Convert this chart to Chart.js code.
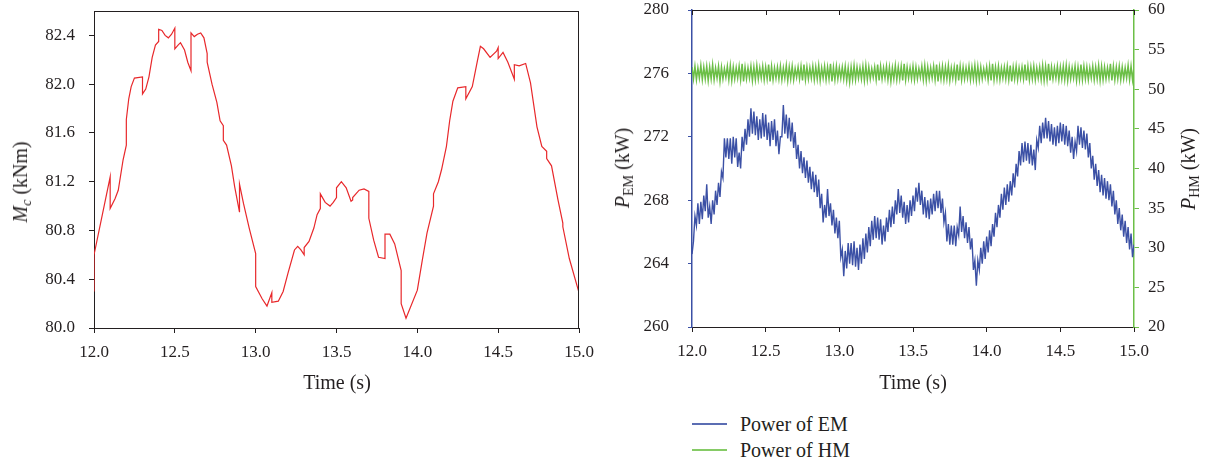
<!DOCTYPE html>
<html>
<head>
<meta charset="utf-8">
<script src="https://cdn.jsdelivr.net/npm/chart.js@4.4.0/dist/chart.umd.min.js"></script>
<style>
body { margin: 0; background: #fff; width: 1207px; height: 461px; overflow: hidden; position: relative; font-family: "Liberation Serif", "Times New Roman", serif; color: #231f20; }
canvas { position: absolute; top: 0; }
#mcChart { left: 0; }
#powChart { left: 600px; }
.ytitle { position: absolute; font-size: 20px; line-height: 20px; white-space: nowrap; transform: translate(-50%, -50%) rotate(-90deg); }
.xtitle { position: absolute; font-size: 20px; line-height: 20px; white-space: nowrap; transform: translate(-50%, -50%); }
.ytitle sub { font-size: 14px; vertical-align: -4px; line-height: 0; }
.leg { position: absolute; left: 692px; font-size: 20px; line-height: 20px; white-space: nowrap; }
.leg span { display: inline-block; width: 35px; height: 0; border-top: 2px solid; vertical-align: middle; margin-right: 13px; position: relative; top: -2px; }
</style>
</head>
<body>
<canvas id="mcChart" width="600" height="400"></canvas>
<canvas id="powChart" width="607" height="400"></canvas>

<div class="ytitle" style="left:20px; top:182px;"><i>M</i><sub><i>c</i></sub> (kNm)</div>
<div class="xtitle" style="left:337px; top:382px;">Time (s)</div>
<div class="ytitle" style="left:622px; top:168px;"><i>P</i><sub>EM</sub> (kW)</div>
<div class="ytitle" style="left:1188px; top:169px;"><i>P</i><sub>HM</sub> (kW)</div>
<div class="xtitle" style="left:913px; top:382px;">Time (s)</div>

<div class="leg" style="top:414px;"><span style="border-color:#5b6db3;"></span>Power of EM</div>
<div class="leg" style="top:440px;"><span style="border-color:#86cb66;"></span>Power of HM</div>

<script>
// tick values
var timeTicks = [12.0, 12.5, 13.0, 13.5, 14.0, 14.5, 15.0];
var mcTicks = [80.0, 80.4, 80.8, 81.2, 81.6, 82.0, 82.4];
var emTicks = [260, 264, 268, 272, 276, 280];
var hmTicks = [20, 25, 30, 35, 40, 45, 50, 55, 60];

// left chart: M_c (kNm) against time (s), repeated times are the jumps
var mcTime = [12.00,12.00,12.10,12.10,12.13,12.15,12.18,12.20,12.20,12.215,
  12.23,12.25,12.30,12.30,12.32,12.34,12.36,12.38,12.40,12.40,
  12.42,12.44,12.46,12.48,12.50,12.50,12.52,12.535,12.56,12.58,
  12.60,12.60,12.62,12.64,12.66,12.68,12.70,12.70,12.73,12.76,
  12.78,12.80,12.80,12.82,12.85,12.87,12.90,12.90,12.925,12.96,
  13.00,13.00,13.04,13.07,13.10,13.10,13.14,13.17,13.20,13.24,
  13.26,13.28,13.30,13.30,13.33,13.36,13.38,13.40,13.40,13.43,
  13.46,13.48,13.50,13.50,13.53,13.56,13.59,13.60,13.60,13.64,
  13.67,13.70,13.70,13.73,13.76,13.80,13.80,13.83,13.86,13.90,
  13.90,13.93,14.00,14.03,14.06,14.10,14.10,14.13,14.15,14.18,
  14.20,14.22,14.25,14.30,14.30,14.34,14.37,14.39,14.41,14.45,
  14.49,14.50,14.50,14.53,14.56,14.60,14.60,14.63,14.67,14.70,
  14.74,14.77,14.80,14.80,14.83,14.87,14.90,14.90,14.94,15.00,
  15.00];
var mcValue = [80.30,80.60,81.24,80.98,81.06,81.13,81.38,81.50,81.71,81.88,
  81.98,82.05,82.06,81.92,81.96,82.06,82.22,82.32,82.35,82.45,
  82.44,82.40,82.38,82.41,82.46,82.29,82.32,82.34,82.28,82.18,
  82.11,82.42,82.39,82.41,82.42,82.38,82.25,82.18,82.00,81.85,
  81.70,81.66,81.54,81.50,81.33,81.16,80.95,81.18,81.02,80.82,
  80.61,80.34,80.24,80.18,80.29,80.21,80.22,80.30,80.45,80.64,
  80.67,80.64,80.60,80.66,80.71,80.82,80.93,80.98,81.10,81.03,
  81.00,81.03,81.07,81.15,81.20,81.15,81.04,81.05,81.07,81.13,
  81.14,81.12,80.90,80.72,80.58,80.57,80.77,80.77,80.69,80.47,
  80.20,80.08,80.31,80.55,80.78,81.00,81.10,81.20,81.30,81.49,
  81.70,81.86,81.97,81.98,81.88,81.98,82.18,82.31,82.29,82.22,
  82.27,82.30,82.21,82.26,82.18,82.04,82.16,82.15,82.17,82.01,
  81.65,81.49,81.45,81.39,81.33,81.05,80.86,80.83,80.57,80.29,
  80.45];

// right chart: sampled every 0.01 s from 12.00 s
var powStart = 12.0;
var powStep = 0.01;
var emPower = [264.6,265.4,267.0,266.4,267.8,266.5,267.9,266.8,268.3,267.3,
  269.0,266.9,267.6,266.5,268.0,267.1,268.6,267.7,269.1,268.2,
  269.8,269.4,271.9,270.7,271.9,270.6,271.9,270.3,272.0,270.7,
  271.9,270.1,271.0,270.0,272.0,271.1,272.5,271.5,273.1,272.0,
  273.8,272.2,273.6,272.1,273.3,271.8,273.1,271.9,273.5,272.0,
  273.4,271.8,272.9,271.4,273.0,271.8,273.1,271.4,272.4,270.9,
  272.0,272.0,274.0,272.2,273.4,271.9,273.2,271.7,272.9,271.3,
  272.3,270.6,271.5,270.0,271.1,269.7,270.7,269.4,270.5,269.1,
  270.1,268.7,269.8,268.5,269.6,268.2,269.3,267.5,268.4,266.6,
  267.7,266.9,268.7,267.0,267.8,266.4,267.4,265.9,266.9,265.6,
  266.7,264.4,264.9,263.2,264.8,263.7,265.3,264.0,265.3,263.9,
  265.4,263.8,265.0,263.6,265.2,264.0,265.6,264.3,265.9,264.7,
  266.3,265.1,266.7,265.5,267.0,265.6,266.9,265.5,266.8,265.2,
  266.4,265.4,266.9,266.0,267.4,266.3,267.6,266.5,268.0,267.1,
  268.7,267.2,268.3,266.9,267.9,266.5,267.7,266.6,268.0,267.0,
  268.3,267.3,268.8,267.9,269.1,267.7,268.6,267.1,268.2,266.9,
  268.0,266.8,268.1,267.1,268.4,267.3,268.6,267.5,268.6,267.2,
  268.1,266.6,267.2,265.4,266.5,265.2,266.4,265.2,266.4,265.1,
  266.3,265.8,267.6,266.0,267.0,265.6,266.6,265.3,266.3,264.9,
  265.6,263.6,264.2,262.6,264.2,263.6,265.0,264.0,265.4,264.3,
  265.7,264.7,266.1,265.1,266.5,265.7,267.2,266.3,267.7,266.9,
  268.4,267.4,268.8,267.7,269.0,267.9,269.2,268.3,269.7,268.8,
  270.3,269.5,271.1,270.2,271.6,270.4,271.7,270.5,271.6,270.3,
  271.5,270.2,271.2,269.9,271.8,271.3,272.7,271.6,272.9,271.9,
  273.2,271.9,273.0,271.7,272.8,271.5,272.6,271.4,272.7,271.6,
  272.9,271.7,272.8,271.5,272.7,271.4,272.4,271.0,272.0,270.6,
  271.7,271.1,272.7,271.5,272.6,271.3,272.4,271.2,272.2,270.7,
  271.6,270.0,270.8,269.3,270.3,268.9,269.9,268.5,269.6,268.3,
  269.4,268.1,269.2,268.0,269.0,267.6,268.6,267.1,268.0,266.5,
  267.5,266.1,267.1,265.7,266.7,265.3,266.3,264.9,265.9,264.4,
  265.2];
var hmPower = [52.8,51.3,52.9,51.2,52.7,51.4,53.0,51.2,52.8,51.3,
  52.9,51.1,52.8,51.3,53.1,51.2,52.7,51.4,52.9,51.0,
  52.8,51.3,52.6,51.5,52.9,51.2,53.0,51.1,52.8,51.3,
  52.7,51.4,52.9,51.2,53.2,51.0,52.8,51.3,52.7,51.4,
  52.9,51.1,52.8,51.2,53.0,51.3,52.7,51.4,52.9,51.2,
  52.8,51.3,53.1,51.0,52.9,51.2,52.7,51.4,52.8,51.3,
  52.9,51.2,52.7,51.4,53.0,51.1,52.8,51.3,52.9,51.2,
  52.6,51.5,52.8,51.3,52.9,51.1,53.1,51.2,52.8,51.3,
  52.7,51.4,52.9,51.2,52.8,51.3,53.0,51.1,52.7,51.4,
  52.9,51.2,52.8,51.3,53.2,51.0,52.8,51.2,52.9,51.3,
  52.7,51.4,52.8,51.3,52.9,51.1,52.7,50.9,52.8,51.2,
  53.0,51.2,52.8,51.4,52.7,51.3,52.9,51.1,53.0,51.2,
  52.8,51.3,52.6,51.5,52.8,51.2,53.1,51.1,52.9,51.3,
  52.7,51.4,52.9,51.2,52.8,51.0,52.7,51.3,53.0,51.2,
  52.8,51.3,52.9,51.1,53.2,51.2,52.8,51.4,52.7,51.3,
  52.9,51.2,52.8,51.3,52.6,51.5,52.9,51.2,53.0,51.1,
  52.8,51.3,52.7,51.4,52.9,51.2,53.1,51.0,52.8,51.3,
  52.9,51.2,52.8,51.3,53.0,51.1,52.7,51.4,52.8,51.2,
  53.1,51.1,52.9,51.2,52.8,51.3,52.7,51.4,52.9,51.2,
  52.8,51.3,53.0,51.1,52.9,51.2,52.8,51.3,52.6,51.5,
  52.8,51.2,52.9,51.1,53.2,51.2,52.8,51.3,52.9,51.2,
  52.7,51.4,52.8,51.3,52.9,51.2,53.0,51.0,52.8,51.3,
  52.9,51.2,52.7,51.4,52.8,51.3,53.1,51.1,52.9,51.2,
  52.8,51.3,52.9,51.2,52.7,51.4,52.8,51.2,53.0,51.1,
  52.9,51.2,53.2,51.1,52.8,51.3,52.7,51.4,52.9,51.2,
  52.8,51.3,52.9,51.2,53.0,51.1,52.8,51.3,52.7,51.4,
  52.9,51.1,52.8,51.2,53.1,51.2,52.9,51.3,52.8,51.2,
  52.7,51.4,52.9,51.2,52.8,51.3,53.0,51.1,52.9,51.2,
  52.8,51.3,52.7,51.4,53.2,51.1,52.9,51.2,52.8,51.3,
  52.9,51.2,52.8,51.3,52.7,51.4,53.0,51.2,52.9,51.2,
  52.8];

var ink = "#231f20";
var red = "#e8282b";
var blue = "#3b50a5";
var green = "#6cbf47";

// tick font, handed out fresh for every label
function tickFont() {
  return { family: "'Liberation Serif', serif", size: 17 };
}

function toPoints(xs, ys) {
  var pts = [];
  for (var i = 0; i < ys.length; i++) pts.push({ x: xs[i], y: ys[i] });
  return pts;
}
function sampled(ys) {
  var pts = [];
  for (var i = 0; i < ys.length; i++) pts.push({ x: powStart + i * powStep, y: ys[i] });
  return pts;
}
function fixedTicks(list) {
  return function(scale) { scale.ticks = list.map(function(v) { return { value: v }; }); };
}
// fixed axis size, and no extra room for the end labels
function fixedWidth(w) {
  return function(s) { s.width = w; s.paddingTop = 0; s.paddingBottom = 0; };
}
function fixedHeight(h) {
  return function(s) { s.height = h; s.paddingLeft = 0; s.paddingRight = 0; };
}

// frame lines that no axis draws (top side, right side, inward top ticks)
var framePlugin = {
  id: "frame",
  afterDraw: function(chart, args, opts) {
    var ctx = chart.ctx, a = chart.chartArea;
    ctx.save();
    ctx.lineWidth = 1;
    ctx.strokeStyle = ink;
    ctx.beginPath();
    ctx.moveTo(a.left, Math.round(a.top) + 0.5);
    ctx.lineTo(a.right, Math.round(a.top) + 0.5);
    if (opts.rightSide) {
      ctx.moveTo(Math.round(a.right) - 0.5, a.top);
      ctx.lineTo(Math.round(a.right) - 0.5, a.bottom);
    }
    if (opts.topTicks) {
      timeTicks.forEach(function(v) {
        var x = Math.round(chart.scales.x.getPixelForValue(v)) + 0.5;
        ctx.moveTo(x, a.top);
        ctx.lineTo(x, a.top + 5);
      });
    }
    ctx.stroke();
    ctx.restore();
  }
};

var xScale = function(h) {
  return {
    type: "linear", min: 12, max: 15,
    afterBuildTicks: fixedTicks(timeTicks),
    afterFit: fixedHeight(h),
    ticks: { font: tickFont, color: ink, padding: 9, callback: function(v) { return v.toFixed(1); } },
    grid: { drawOnChartArea: false, tickLength: 5, tickColor: ink },
    border: { color: ink, width: 1 }
  };
};

function drawCharts() {
  new Chart(document.getElementById("mcChart"), {
    type: "line",
    data: {
      datasets: [{
        data: toPoints(mcTime, mcValue),
        borderColor: red, borderWidth: 1.2, pointRadius: 0, tension: 0, fill: false
      }]
    },
    options: {
      responsive: false, animation: false,
      layout: { padding: { top: 11, right: 21, left: 0, bottom: 0 } },
      plugins: { legend: { display: false }, tooltip: { enabled: false }, frame: { rightSide: true } },
      scales: {
        x: xScale(72),
        y: {
          min: 80, max: 82.6,
          afterBuildTicks: fixedTicks(mcTicks),
          afterFit: fixedWidth(94),
          ticks: { font: tickFont, color: ink, padding: 14, callback: function(v) { return v.toFixed(1); } },
          grid: { drawOnChartArea: false, tickLength: 5, tickColor: ink },
          border: { color: ink, width: 1 }
        }
      }
    },
    plugins: [framePlugin]
  });

  new Chart(document.getElementById("powChart"), {
    type: "line",
    data: {
      datasets: [{
        label: "Power of EM",
        data: sampled(emPower), yAxisID: "yEM",
        borderColor: blue, borderWidth: 1.4, pointRadius: 0, tension: 0, fill: false
      }, {
        label: "Power of HM",
        data: sampled(hmPower), yAxisID: "yHM",
        borderColor: green, borderWidth: 1.5, pointRadius: 0, tension: 0, fill: false
      }]
    },
    options: {
      responsive: false, animation: false,
      layout: { padding: { top: 10, right: 0, left: 0, bottom: 0 } },
      plugins: { legend: { display: false }, tooltip: { enabled: false }, frame: { topTicks: true } },
      scales: {
        x: xScale(73),
        yEM: {
          position: "left", min: 260, max: 280,
          afterBuildTicks: fixedTicks(emTicks),
          afterFit: fixedWidth(92),
          ticks: { font: tickFont, color: ink, padding: 19 },
          grid: { drawOnChartArea: false, tickLength: 4, tickColor: blue },
          border: { color: blue, width: 1.5 }
        },
        yHM: {
          position: "right", min: 20, max: 60,
          afterBuildTicks: fixedTicks(hmTicks),
          afterFit: fixedWidth(73),
          ticks: { font: tickFont, color: ink, padding: 9 },
          grid: { drawOnChartArea: false, tickLength: 5, tickColor: green },
          border: { color: green, width: 1.5 }
        }
      }
    },
    plugins: [framePlugin]
  });
}

// wait for the serif face so the canvas labels do not fall back to sans
if (document.fonts && document.fonts.load) {
  Promise.all([document.fonts.load("17px 'Liberation Serif'"), document.fonts.ready])
    .then(drawCharts, drawCharts);
} else {
  drawCharts();
}
</script>
</body>
</html>
